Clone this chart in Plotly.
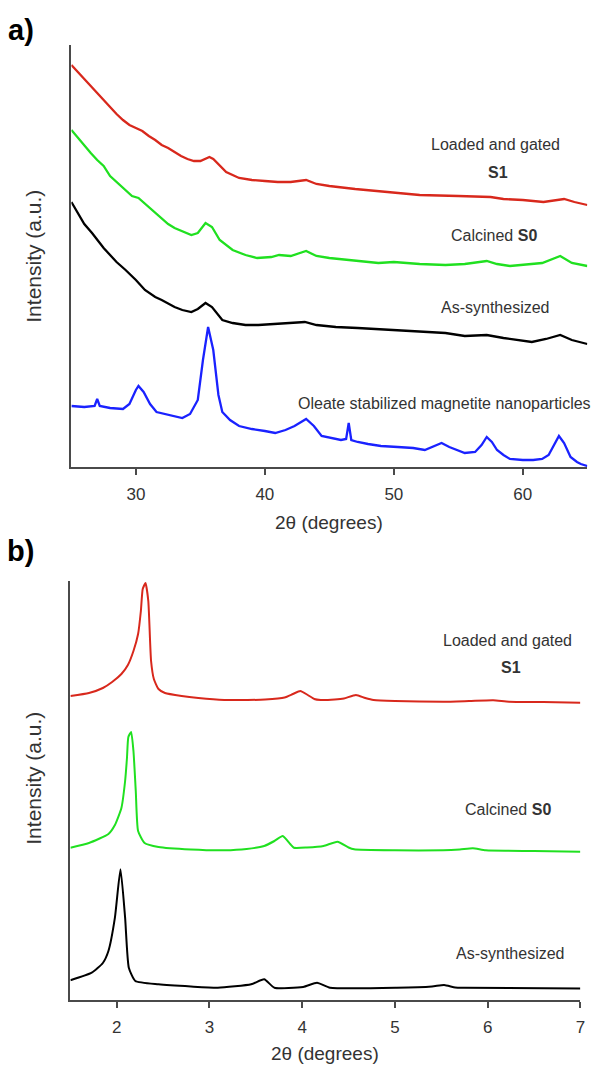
import plotly.graph_objects as go

# ---------------- Panel a) wide-angle XRD (2theta 25-65) ----------------
a_red_x = [25, 25.5, 26, 26.5, 27, 27.5, 28, 28.5, 29, 29.5, 30, 30.5, 31, 31.5, 32, 32.5, 33, 33.5, 34, 34.5,
           35, 35.4, 35.7, 36, 36.5, 37, 38, 39, 40, 41, 42, 43.2, 44, 45, 47, 50, 52, 55, 57.5, 58.5, 60, 61.6,
           63.2, 64, 65]
a_red_y = [401, 394, 387, 379, 372, 365, 358, 352, 346, 341, 338, 335, 330, 326, 321, 318, 314, 310, 307, 305,
           305, 307, 309, 307, 300, 294, 288, 286, 285, 284, 284, 286, 282, 280, 277, 273, 271, 270, 269, 267, 266, 264,
           267, 264, 261]

a_green_x = [25, 25.5, 26, 26.5, 27, 27.5, 28, 28.5, 29, 29.7, 30.2, 31, 31.8, 32.5, 33, 33.5, 34.3, 34.8, 35.4,
             35.9, 36.5, 37.5, 38.5, 39.4, 40.5, 41.1, 42, 43.2, 44, 45, 47, 48.8, 50, 52, 54, 55.5, 57.2, 58, 59,
             60, 61.5, 62.9, 63.8, 65]
a_green_y = [336, 328, 320, 313, 306, 300, 290, 284, 278, 270, 268, 259, 250, 242, 238, 235, 231, 233, 243,
             239, 226, 216, 211, 208, 209, 211, 210, 215, 210, 208, 205, 203, 204, 202, 201, 202, 205, 202, 200,
             201, 203, 210, 203, 200]

a_black_x = [25, 25.5, 26, 26.6, 27, 27.5, 28, 28.5, 29.2, 30, 30.7, 31.5, 32, 33, 33.6, 34.3, 34.8, 35.4, 35.9,
             36.7, 37.5, 38.5, 39.5, 41, 43.1, 44, 45.5, 47.2, 50, 52, 54, 55.5, 57.2, 58.5, 60, 60.7, 61.8, 62.9,
             63.8, 65]
a_black_y = [264, 253, 242, 233, 226, 218, 211, 204, 196, 186, 176, 169, 166, 159, 156, 154, 157, 163, 159,
             146, 143, 141, 141, 142, 144, 141, 139, 138, 136, 134, 133, 130, 131, 128, 125, 124, 127, 131,
             126, 122]

a_blue_x = [25, 26, 26.8, 27, 27.2, 28, 29, 29.5, 30, 30.2, 30.6, 31.1, 31.6, 32.5, 33.6, 34.2, 34.8, 35.2, 35.6,
            36, 36.4, 36.7, 37.3, 38, 39, 40, 40.8, 41.6, 42.3, 43.2, 43.8, 44.4, 45.2, 45.9, 46.3, 46.5, 46.7,
            47.2, 48, 49, 50.3, 51.5, 52.4, 53.2, 53.7, 54.3, 55.5, 56.3, 56.8, 57.2, 57.6, 58, 58.5, 59, 60,
            60.8, 61.5, 62, 62.4, 62.8, 63.2, 63.7, 64.2, 64.5, 65]
a_blue_y = [60, 59, 60, 67, 60, 58, 57, 62, 76, 80, 74, 62, 54, 51, 48, 52, 66, 106, 139,
            116, 71, 54, 46, 40, 37, 35, 33, 36, 40, 47, 40, 30, 28, 26, 27, 43, 26,
            24, 22, 20, 19, 18, 16, 20, 23, 19, 13, 14, 21, 29, 24, 16, 11, 7, 6,
            6, 7, 11, 21, 30, 23, 9, 4, 2, 0]

a_ticks = [30, 40, 50, 60]

# ---------------- Panel b) low-angle XRD (2theta 1.5-7) ----------------
b_red_x = [1.5, 1.7, 1.85, 1.95, 2.05, 2.12, 2.18, 2.23, 2.26, 2.28, 2.31, 2.34, 2.37, 2.40, 2.45, 2.52, 2.7,
           2.88, 3.16, 3.41, 3.6, 3.81, 3.90, 3.98, 4.06, 4.13, 4.2, 4.35, 4.45, 4.58, 4.68, 4.77, 5.0, 5.52,
           5.8, 6.06, 6.23, 6.6, 7.0]
b_red_y = [303, 306, 311, 317, 325, 334, 348, 365, 388, 410, 416, 398, 338, 320, 310, 306, 303,
           301, 299, 299, 299.5, 301.5, 305, 308, 304, 300, 299, 299.5, 300.5, 304, 301, 299, 298, 297.3,
           298, 298.7, 297.3, 297, 296.3]

b_green_x = [1.5, 1.7, 1.91, 1.98, 2.05, 2.09, 2.11, 2.125, 2.155, 2.18, 2.205, 2.23, 2.30, 2.45, 2.8, 3.16,
             3.4, 3.59, 3.7, 3.79, 3.87, 3.91, 4.05, 4.23, 4.38, 4.5, 4.56, 5.0, 5.52, 5.7, 5.84, 5.98, 6.5, 7.0]
b_green_y = [151.3, 156, 165, 174, 191, 218, 241, 262, 267, 248, 208, 168, 156, 152, 149.5, 148.7,
             150, 153, 158, 163, 155, 151.3, 151.5, 153, 157.3, 151.5, 149.7, 148.7, 148.7, 149.5, 150.7, 148.7,
             148, 147.3]

b_black_x = [1.5, 1.73, 1.85, 1.91, 1.98, 2.04, 2.09, 2.13, 2.20, 2.45, 2.8, 3.09, 3.45, 3.59, 3.70, 4.01, 4.16,
             4.30, 5.02, 5.4, 5.53, 5.65, 5.75, 7.0]
b_black_y = [18.7, 26.3, 36, 48, 81.3, 129.7, 81.3, 31.3, 18, 14.7, 12.5, 11.3, 14.7, 19.7, 11.3, 12, 16.3,
             11.3, 11.2, 12.5, 14, 11.5, 11.2, 10.5]

b_ticks = [2, 3, 4, 5, 6, 7]

RED = "#d8281c"
GREEN = "#20e020"
BLACK = "#000000"
BLUE = "#1a22ff"
AXIS = "#4a4a4a"
TXT = "#333333"
FONT = "Liberation Sans, Arial, sans-serif"

W, H = 594, 1066

def px(x):
    return x / W

def py(y):
    return 1 - y / H

fig = go.Figure()

for xs, ys, c in [(a_red_x, a_red_y, RED), (a_green_x, a_green_y, GREEN),
                  (a_black_x, a_black_y, BLACK), (a_blue_x, a_blue_y, BLUE)]:
    fig.add_trace(go.Scatter(x=xs, y=ys, mode="lines", line=dict(color=c, width=2.3),
                             xaxis="x", yaxis="y", showlegend=False, hoverinfo="skip"))

for xs, ys, c in [(b_red_x, b_red_y, RED), (b_green_x, b_green_y, GREEN),
                  (b_black_x, b_black_y, BLACK)]:
    fig.add_trace(go.Scatter(x=xs, y=ys, mode="lines",
                             line=dict(color=c, width=2, shape="spline", smoothing=0.5),
                             xaxis="x2", yaxis="y2", showlegend=False, hoverinfo="skip"))

xcommon = dict(showline=True, linecolor=AXIS, linewidth=2, ticks="outside", ticklen=6,
               tickwidth=2, tickcolor=AXIS, showgrid=False, zeroline=False,
               tickfont=dict(family=FONT, size=17, color=TXT), ticklabelstandoff=5)
ycommon = dict(showline=True, linecolor=AXIS, linewidth=2, ticks="", showticklabels=False,
               showgrid=False, zeroline=False)

fig.update_layout(
    width=W, height=H, autosize=False,
    margin=dict(l=0, r=0, t=0, b=0),
    paper_bgcolor="white", plot_bgcolor="white",
    xaxis=dict(domain=[px(72), px(592.3)], range=[25, 65], tickvals=a_ticks, anchor="y", **xcommon),
    yaxis=dict(domain=[py(467), py(45)], range=[-1, 421], anchor="x", **ycommon),
    xaxis2=dict(domain=[px(71), px(585.3)], range=[1.5, 7], tickvals=b_ticks, anchor="y2", **xcommon),
    yaxis2=dict(domain=[py(1000), py(581)], range=[-1, 418], anchor="x2", **ycommon),
)

def ann(text, x, y, size=16, **kw):
    fig.add_annotation(text=text, x=px(x), y=py(y), xref="paper", yref="paper", showarrow=False,
                       xanchor="center", yanchor="middle",
                       font=dict(family=FONT, size=size, color=kw.pop("color", TXT)), **kw)

# panel letters
ann("<b>a)</b>", 21, 30, size=29, color="#000000")
ann("<b>b)</b>", 21, 551, size=29, color="#000000")

# panel a labels
ann("Loaded and gated", 500, 144)
ann("<b>S1</b>", 502, 172)
ann("Calcined <b>S0</b>", 498, 235)
ann("As-synthesized", 500, 307)
ann("Oleate stabilized magnetite nanoparticles", 448, 403)

# panel b labels
ann("Loaded and gated", 512, 640)
ann("<b>S1</b>", 515, 667)
ann("Calcined <b>S0</b>", 512, 809)
ann("As-synthesized", 515, 953)

# axis titles
ann("2θ (degrees)", 332, 522, size=19)
ann("2θ (degrees)", 328, 1053, size=19)
ann("Intensity (a.u.)", 33, 256, size=21, textangle=-90)
ann("Intensity (a.u.)", 33, 778, size=21, textangle=-90)

fig.write_html("out.html")
